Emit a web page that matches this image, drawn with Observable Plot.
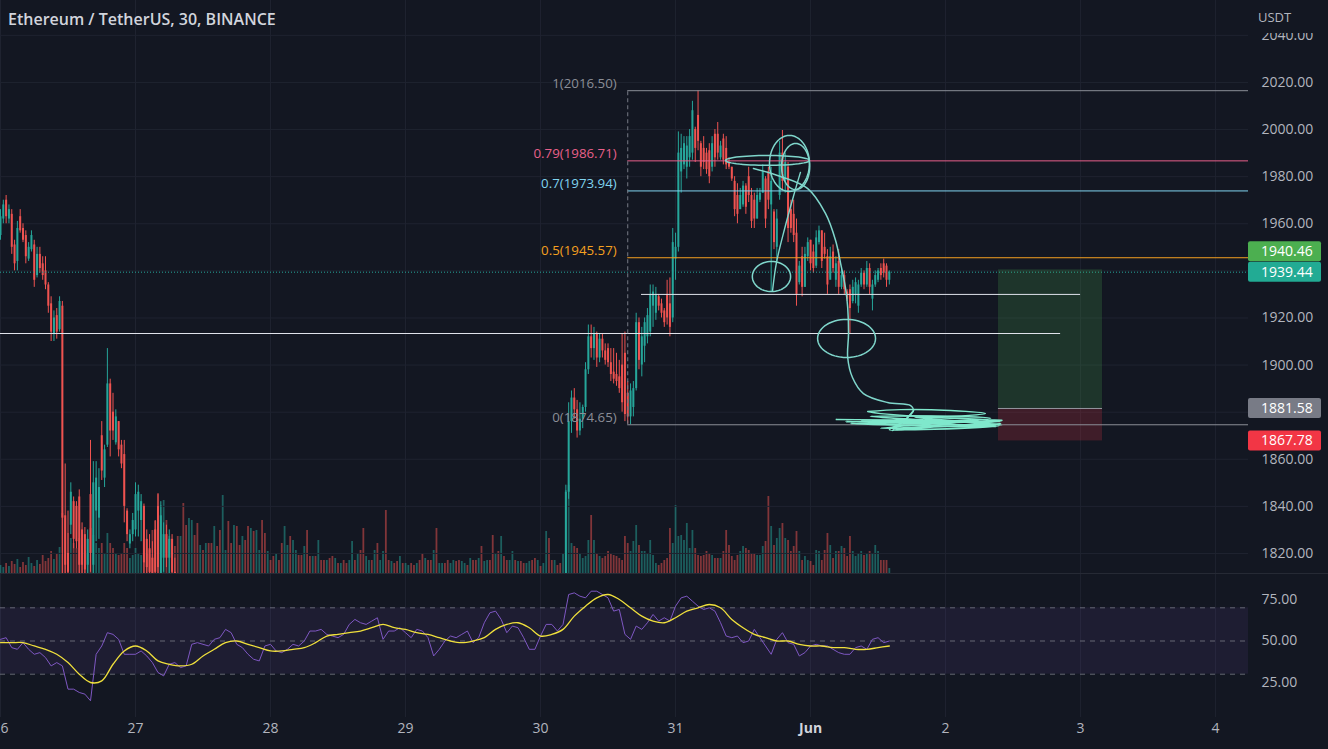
<!DOCTYPE html>
<html><head><meta charset="utf-8">
<script src="https://cdn.jsdelivr.net/npm/d3@7"></script>
<script src="https://cdn.jsdelivr.net/npm/@observablehq/plot@0.6"></script>
<style>
html,body{margin:0;padding:0;background:#131722;}
#root{position:relative;width:1328px;height:749px;background:#131722;overflow:hidden;font-family:"Open Sans",sans-serif;}
.layer{position:absolute;left:0;}
#title{position:absolute;left:8px;top:8px;color:#d1d4dc;font-size:16px;font-weight:600;white-space:nowrap;}
#usdt{position:absolute;left:1249px;top:0;width:79px;height:33px;background:#131722;color:#b2b5be;font-size:13px;line-height:34px;padding-left:9px;box-sizing:border-box;}
#sep{position:absolute;left:0;top:573px;width:1328px;height:1px;background:#262a35;}
</style></head>
<body>
<div id="root">
  <div id="vol" class="layer" style="top:0"></div>
  <div id="main" class="layer" style="top:0"></div>
  <div id="sep"></div>
  <div id="rsi" class="layer" style="top:574px"></div>
  <div id="title">Ethereum / TetherUS, 30, BINANCE</div>
  <div id="usdt">USDT</div>
</div>
<script>
// ---------------- DATA ----------------
// bar index = 30-minute bars since 26 May 00:00
const dayTickBars = [0,48,96,144,192,240,288,336,384,432];
const dayTickLabels = ["26","27","28","29","30","31","Jun","2","3","4"];
const priceTicks = [1820,1840,1860,1880,1900,1920,1940,1960,1980,2000,2020,2040];
const rsiTicks = [25,50,75];
const rsiBandLevels = [30,50,70];

// candles [open, high, low, close]
const candlesAStart = 0;
const candlesA = [
[1955,1966,1953,1963],[1962,1970,1960,1968],[1970,1972,1960,1963],[1962,1968,1960,1966],[1964,1966,1947,1950],
[1951,1953,1940,1943],[1944,1961,1940,1958],[1963,1966,1956,1957],[1958,1960,1952,1953],[1955,1957,1943,1946],
[1945,1952,1944,1950],[1949,1957,1948,1955],[1951,1953,1933,1936],[1938,1950,1937,1947],[1947,1950,1939,1941],
[1943,1946,1936,1938],[1940,1946,1932,1934],[1934,1935,1922,1925],[1926,1929,1910,1914],[1913,1923,1910,1920],
[1921,1924,1911,1914],[1915,1929,1914,1927],[1925,1927,1805,1835],[1836,1858,1805,1815],[1820,1838,1808,1812],
[1832,1850,1828,1846],[1842,1844,1822,1826],[1840,1842,1822,1825],[1844,1847,1811,1815],[1830,1833,1810,1815],
[1828,1831,1810,1813],[1815,1830,1810,1826],[1845,1868,1812,1820],[1815,1859,1810,1850],[1838,1859,1825,1852],
[1835,1856,1826,1848],[1870,1876,1851,1855],[1852,1866,1848,1864],[1866,1907,1865,1892],[1892,1894,1861,1872],
[1880,1888,1868,1872],[1867,1881,1866,1878],[1876,1876,1861,1864],[1866,1868,1856,1858],[1862,1868,1833,1840],
[1838,1839,1825,1828],[1824,1830,1822,1828],[1828,1837,1825,1834],[1830,1850,1827,1845],[1838,1849,1827,1846],
[1834,1845,1825,1842],[1840,1841,1810,1816],[1826,1830,1810,1814],[1822,1828,1808,1812],[1818,1825,1806,1810],
[1830,1834,1808,1812],[1840,1845,1808,1814],[1810,1842,1808,1836],[1818,1833,1812,1828],[1828,1832,1814,1818],
[1818,1830,1810,1826],[1826,1828,1808,1812],[1812,1818,1804,1808]
];
const candlesBStart = 201;
const candlesB = [
[1808,1849,1806,1846],[1846,1884,1843,1876],[1876,1889,1871,1886],[1886,1890,1877,1881],[1881,1885,1869,1872],
[1872,1884,1870,1877],[1877,1883,1873,1882],[1882,1901,1880,1898],[1898,1917,1896,1912],[1912,1917,1903,1907],
[1907,1916,1902,1913],[1913,1914,1899,1903],[1903,1913,1901,1911],[1911,1913,1903,1906],[1906,1909,1900,1902],
[1907,1909,1899,1901],[1901,1907,1893,1896],[1897,1907,1892,1894],[1896,1905,1891,1893],[1895,1902,1888,1890],
[1900,1913,1880,1884],[1905,1914,1876,1879],[1888,1893,1875,1878],[1878,1892,1874.65,1889],[1882,1893,1878,1890],
[1890,1922,1889,1918],[1918,1920,1898,1902],[1900,1916,1895,1912],[1908,1920,1901,1918],[1912,1924,1909,1921],
[1914,1934,1912,1930],[1925,1934,1916,1931],[1922,1933,1919,1930],[1929,1930,1923,1925],[1926,1928,1920,1922],
[1923,1924,1916,1918],[1930,1936,1917,1920],[1926,1937,1912,1916],[1920,1958,1918,1952],[1945,1956,1936,1950],
[1950,1999,1948,1990],[1982,1998,1973,1992],[1985,1997,1983,1994],[1984,1997,1979,1993],[1988,2000,1984,1997],
[1990,2012,1987,2008],[2000,2001,1986,1992],[2006,2016.5,1991,1995],[1994,1995,1980,1984],[1992,1997,1983,1986],
[1990,1992,1981,1983],[1991,1994,1977,1980],[1984,1997,1982,1994],[1998,2000,1984,1988],[1998,2003,1987,1990],
[1988,1995,1987,1993],[1996,1998,1985,1987],[1992,1997,1983,1985],[1986,1988,1983,1984],[1984,1984,1978,1979],
[1978,1980,1963,1966],[1972,1977,1960,1964],[1966,1975,1966,1972],[1968,1978,1967,1976],[1976,1977,1964,1967],
[1980,1984,1969,1972],[1972,1975,1958,1961],[1970,1973,1958,1962],[1962,1975,1962,1972],[1970,1975,1969,1973],
[1973,1985,1973,1982],[1979,1980,1958,1962],[1982,1984,1966,1970],[1968,1984,1931,1978],[1965,1966,1949,1952],
[1950,1966,1944,1962],[1972,1995,1970,1990],[1990,1999.6,1974,1978],[1978,1990,1973,1986],[1984,1986,1952,1958],
[1966,1970,1956,1958],[1964,1970,1952,1955],[1956,1962,1925,1930],[1935,1944,1934,1942],[1946,1950,1929,1933],
[1933,1950,1933,1947],[1946,1954,1944,1952],[1953,1953,1940,1943],[1948,1951,1939,1941],[1942,1957,1941,1954],
[1952,1959,1951,1957],[1957,1957,1941,1944],[1950,1956,1945,1947],[1946,1949,1930,1934],[1936,1950,1937,1946],
[1948,1951,1939,1941],[1936,1946,1933,1943],[1944,1949,1930,1933],[1933,1941,1932,1938],[1938,1940,1930,1932],
[1931,1932,1927,1928],[1932,1934,1913,1924],[1927,1936,1926,1933],[1930,1937,1926,1935],[1925,1936,1922,1934],
[1934,1941,1933,1939],[1939,1940,1932,1934],[1934,1944,1933,1941],[1941,1943,1930,1933],[1928,1936,1923,1934],
[1934,1940,1933,1938],[1936,1941,1935,1940],[1941,1943,1936,1938],[1943,1945,1937,1939],[1942,1943,1933,1936],
[1936,1940,1934,1939.44]
];

// volume per bar (bars 0..316)
const volume = [
8,6,10,7,12,9,14,6,11,8,16,10,7,13,9,18,12,15,22,14,19,26,
60,55,40,35,30,25,35,28,22,20,45,38,30,25,30,20,40,30,25,20,18,20,30,25,15,18,25,20,18,25,20,
23,43,52,80,68,73,53,37,30,27,
37,37,70,48,55,53,38,50,28,23,
30,30,30,47,27,43,78,23,52,30,
48,47,28,37,33,47,45,42,43,23,
53,40,22,13,17,20,13,30,47,28,
37,33,23,18,18,27,43,17,17,17,
33,13,13,13,15,17,15,10,10,13,
10,13,32,13,20,23,45,17,13,13,
23,30,13,22,63,13,12,10,12,17,
10,10,8,10,8,10,13,20,15,13,
13,23,45,10,10,10,13,10,13,12,
13,12,10,8,15,13,13,15,27,12,
13,13,38,20,22,37,17,13,13,22,
13,12,12,10,10,12,13,15,13,7,
10,42,35,13,13,8,10,20,
83,88,30,27,25,20,15,17,33,58,
33,20,17,15,17,22,20,18,17,15,
13,37,30,22,32,48,28,22,22,20,
33,18,10,8,10,13,15,45,30,68,
37,38,33,50,25,43,25,18,17,18,
22,20,18,15,15,15,22,43,28,17,
13,18,22,27,25,23,20,20,18,18,
27,32,77,47,28,35,45,50,35,33,
22,27,42,22,13,17,13,12,8,23,
22,13,23,40,28,15,22,22,27,25,
17,37,22,17,20,22,18,20,22,20,
28,22,13,13,13,5
];
// direction of bars whose candle is below the visible price range
const hiddenDirStart = 63;
const hiddenDir = "dudduuddud"+"uddudduudd"+"uddudduduu"+"dduddudduu"+"duudduddud"+"udduddudud"+"duududduud"+"uduudduddu"+"duudduddud"+"duduudduud"+"duududdudu"+"uddududduu"+"dudduuddud"+"uuddudduud";

// RSI (one value per hour, bars 0,2,4,...)
const rsiHourly = [51,52,46,45,49,45,42,43,40,35, 37,35,21,21,19,18,14,42,47,55, 54,51,42,42,42,44,41,37,31,29,
36,37,34,35,48,49,48,47,51,52, 57,55,48,46,42,39,38,47,48,44, 43,45,48,47,50,56,56,57,54,53,
52,54,60,63,61,60,62,64,51,56, 56,58,55,52,57,56,52,41,45,50, 53,52,54,56,49,52,61,67,68,63,
55,59,58,52,45,45,53,60,60,56, 60,78,79,77,76,80,80,78,76,68, 69,54,51,59,57,61,66,62,64,62,
71,76,77,74,71,69,70,68,61,53, 52,53,49,50,57,52,47,42,51,55, 49,48,41,43,47,48,47,47,45,43,
42,42,46,47,45,51,52,49,50];
// RSI-based MA (one value per 2 hours, bars 0,4,8,...)
const rsiMA = [49,49,49,47,45,42,37,30,25,26, 36,44,47,44,38,36,35,36,41,45, 49,50,48,46,44,44,45,46,49,53,
54,55,56,58,60,58,57,55,54,52, 50,49,50,52,57,60,61,58,53,54, 57,65,71,76,78,75,70,65,62,61,
64,68,70,72,70,63,58,54,52,50, 50,48,47,47,46,46,45,45,46,47];

// Fibonacci retracement
const fibLevels = ["1","0.79","0.7","0.5","0"];
const fibPrices = [2016.50,1986.71,1973.94,1945.57,1874.65];
const fibStartBar = 223;
const lastPrice = 1939.44;
// horizontal user lines
const hLinePrices = [1913.4, 1930.0];
const hLineFrom = [-5, 227.9];
const hLineTo = [376.9, 384.0];
// long position tool
const posFrom = 354.8, posTo = 391.8;
const posTarget = 1940.46, posEntry = 1881.58, posStop = 1867.78;
// freehand drawings [bar, price]
const ellipses = [[272.7,1986.9,14.9,2.1],[280.5,1985.6,7.1,11.9],[282.7,1984.3,5.0,9.8],[274.1,1937.6,6.8,6.4],[300.8,1911.3,10.3,8.1]];
const curveF = [[267.7,1983.5],[277.3,1980.1],[286.9,1975.0],[293.3,1964.4],[296.9,1952.9],[298.7,1943.1],[300.4,1932.9],[301.2,1924.5],[301.5,1913.4],[301.2,1903.2],[302.9,1894.7],[306.8,1887.9],[315.4,1884.1],[323.6,1882.8],[324.6,1880.7],[322.5,1877.7],[318.9,1874.3],[317.2,1872.2]];
const strokeG = [[274.5,1931.7],[275.9,1943.6],[278.8,1958.0],[282.0,1972.0],[284.4,1981.8]];
const scribble1 = [[297.2,1876.9],[355.6,1876.1],[302.2,1875.2],[354.1,1873.9],[305.8,1876.6],[355.6,1875.2],[312.9,1873.2],[352.0,1877.4],[309.3,1878.2],[355.9,1874.6],[300.5,1876.0],[350.5,1875.5],[318.0,1872.6],[355.0,1874.2],[325.0,1877.8],[356.0,1876.5]];
const scribble2 = [[308.3,1880.3],[320.0,1881.1],[337.8,1880.7],[350.2,1879.4],[334.2,1878.2],[312.9,1879.4],[308.3,1880.3]];
const scribble3 = [[324.6,1880.7],[321.0,1876.0],[316.0,1872.5],[330.0,1874.0],[345.0,1876.8]];

// ---------------- STYLE ----------------
const UP = "#26a69a", DOWN = "#ef5350", GRID = "#1f2330", TXT = "#b2b5be";
const fibColors = ["#8b8e97","#e8608a","#80d4f0","#f5a020","#8b8e97"];
const DRAW = "#7fd6cb", SCRIB = "#7fe8cc";
const W = 1328, MR = 80, xMax = 443.7;
const FONT = "Open Sans, sans-serif";
const AXIS_FS = 14;

// ---------------- BUILD ----------------
const candles = [
  ...candlesA.map((d,j)=>({i:candlesAStart+j,o:d[0],h:d[1],l:d[2],c:d[3]})),
  ...candlesB.map((d,j)=>({i:candlesBStart+j,o:d[0],h:d[1],l:d[2],c:d[3]}))
];
const cMap = new Map(candles.map(d=>[d.i,d]));
const volData = volume.map((v,i)=>{
  const cd = cMap.get(i);
  const up = cd ? cd.c >= cd.o : hiddenDir[i-hiddenDirStart] !== "d";
  return {i, v, up};
});
const fib = fibLevels.map((l,k)=>({level:l, price:fibPrices[k], color:fibColors[k]}));
const hLines = hLinePrices.map((p,k)=>({price:p, from:hLineFrom[k], to:hLineTo[k]}));
const pos = {from:posFrom, to:posTo, target:posTarget, entry:posEntry, stop:posStop};
function ellipsePts(e){
  const [cx,cy,rx,ry] = e;
  return d3.range(0,61).map(j=>({x:cx+rx*Math.cos(j/60*2*Math.PI), y:cy+ry*Math.sin(j/60*2*Math.PI)}));
}
const toPts = a => a.map(p=>({x:p[0], y:p[1]}));

const tags = [
  {v:posTarget, col:"#4caf50", shift:-18},
  {v:lastPrice, col:"#22ab94", shift:0},
  {v:posEntry, col:"#787b86", shift:0},
  {v:posStop, col:"#f23645", shift:0}
];

const common = {width:W, marginLeft:0, marginRight:MR, marginTop:0,
  style:{background:"transparent", overflow:"hidden", fontFamily:FONT}};
const yMainDomain = [1811.5,2054.8];

const volPlot = Plot.plot({...common, height:573, marginBottom:0,
  x:{domain:[0,xMax], axis:null},
  y:{domain:[0,112], range:[573,461], axis:null},
  marks:[
    Plot.ruleX(dayTickBars, {x:d=>d, stroke:GRID}),
    Plot.ruleX(volData, {x:"i", y1:0, y2:"v", stroke:d=>d.up?UP:DOWN, strokeOpacity:0.5, strokeWidth:1.8})
  ]
});
document.getElementById("vol").appendChild(volPlot);

// price labels that a price tag would hide are left out (as on the reference scale)
const pxPerPrice = 573/(yMainDomain[1]-yMainDomain[0]);
const tagPx = tags.map(t=>(yMainDomain[1]-t.v)*pxPerPrice + t.shift);
const visibleLabels = priceTicks.filter(p=>{
  const py = (yMainDomain[1]-p)*pxPerPrice;
  return tagPx.every(ty=>Math.abs(ty-py) > 15);
});

const mainPlot = Plot.plot({...common, height:573, marginBottom:0,
  x:{domain:[0,xMax], axis:null},
  y:{domain:yMainDomain, axis:null},
  marks:[
    Plot.ruleY(priceTicks, {y:d=>d, stroke:GRID}),
    Plot.ruleX(candles, {x:"i", y1:"l", y2:"h", stroke:d=>d.c>=d.o?UP:DOWN, strokeWidth:1}),
    Plot.ruleX(candles, {x:"i", y1:"o", y2:"c", stroke:d=>d.c>=d.o?UP:DOWN, strokeWidth:2}),
    Plot.ruleY([lastPrice], {y:d=>d, stroke:UP, strokeDasharray:"1,2", strokeWidth:1}),
    Plot.rect([pos], {x1:"from", x2:"to", y1:"entry", y2:"target", fill:"#4caf50", fillOpacity:0.2}),
    Plot.rect([pos], {x1:"from", x2:"to", y1:"stop", y2:"entry", fill:"#f23645", fillOpacity:0.2}),
    Plot.ruleY([pos], {y:"entry", x1:"from", x2:"to", stroke:"#9598a1"}),
    Plot.ruleY(hLines, {y:"price", x1:"from", x2:"to", stroke:"#e0e3eb", strokeWidth:1}),
    Plot.ruleY(fib, {y:"price", x1:fibStartBar, x2:xMax, stroke:"color", strokeWidth:1}),
    Plot.ruleX([fibStartBar], {x:d=>d, y1:fibPrices[4], y2:fibPrices[0], stroke:"#787b86", strokeDasharray:"4,3"}),
    Plot.text(fib, {x:fibStartBar, y:"price", text:d=>`${d.level}(${d.price.toFixed(2)})`, textAnchor:"end", dx:-11, dy:-7, fill:"color", fontSize:13.3}),
    ...ellipses.map(e=>Plot.line(ellipsePts(e), {x:"x", y:"y", stroke:DRAW, strokeWidth:1.5})),
    Plot.line(toPts(curveF), {x:"x", y:"y", stroke:DRAW, strokeWidth:1.5, curve:"catmull-rom"}),
    Plot.line(toPts(strokeG), {x:"x", y:"y", stroke:DRAW, strokeWidth:1.4, curve:"catmull-rom"}),
    Plot.line(toPts(scribble1), {x:"x", y:"y", stroke:SCRIB, strokeWidth:1.7, curve:"catmull-rom"}),
    Plot.line(toPts(scribble2), {x:"x", y:"y", stroke:SCRIB, strokeWidth:1.4, curve:"catmull-rom"}),
    Plot.line(toPts(scribble3), {x:"x", y:"y", stroke:SCRIB, strokeWidth:1.4, curve:"catmull-rom"}),
    Plot.text(visibleLabels, {y:d=>d, text:d=>d.toFixed(2), frameAnchor:"right", dx:13, textAnchor:"start", fill:TXT, fontSize:AXIS_FS})
  ]
});
document.getElementById("main").appendChild(mainPlot);

// price tags on the scale
const sy = mainPlot.scale("y");
const tg = d3.select(mainPlot).append("g");
tags.forEach(t=>{
  const yc = sy.apply(t.v) + t.shift;
  tg.append("rect").attr("x", W-MR).attr("y", yc-10).attr("width", 73).attr("height", 20).attr("rx", 2).attr("fill", t.col);
  tg.append("text").attr("x", W-MR+13).attr("y", yc).attr("dy","0.35em").attr("fill","#ffffff")
    .attr("text-anchor","start").attr("font-size",AXIS_FS).attr("font-family",FONT).text(t.v.toFixed(2));
});

const rsiPts = rsiHourly.map((v,k)=>({x:2*k, y:v}));
const maPts = rsiMA.map((v,k)=>({x:4*k, y:v}));
const dayTicks = dayTickBars.map((b,k)=>({b, label:dayTickLabels[k]}));
const rsiPlot = Plot.plot({...common, height:175, marginBottom:32,
  x:{domain:[0,xMax], axis:null},
  y:{domain:[3.92,90.06], axis:null},
  marks:[
    Plot.ruleX(dayTickBars, {x:d=>d, stroke:GRID}),
    Plot.rect([{}], {x1:0, x2:xMax, y1:30, y2:70, fill:"#7e57c2", fillOpacity:0.1}),
    Plot.ruleY(rsiBandLevels, {y:d=>d, stroke:"#787b86", strokeOpacity:0.8, strokeDasharray:"5,5"}),
    Plot.line(rsiPts, {x:"x", y:"y", stroke:"#7e57c2", strokeWidth:1}),
    Plot.line(maPts, {x:"x", y:"y", stroke:"#f0e03c", strokeWidth:1.3, curve:"catmull-rom"}),
    Plot.text(rsiTicks, {y:d=>d, text:d=>d.toFixed(2), frameAnchor:"right", dx:13, textAnchor:"start", fill:TXT, fontSize:AXIS_FS}),
    Plot.text(dayTicks.filter(d=>d.label!=="Jun"), {x:"b", text:"label", frameAnchor:"bottom", dy:15, fill:TXT, fontSize:AXIS_FS}),
    Plot.text(dayTicks.filter(d=>d.label==="Jun"), {x:"b", text:"label", frameAnchor:"bottom", dy:15, fill:"#d1d4dc", fontSize:AXIS_FS, fontWeight:"bold"})
  ]
});
document.getElementById("rsi").appendChild(rsiPlot);
</script>
</body></html>
